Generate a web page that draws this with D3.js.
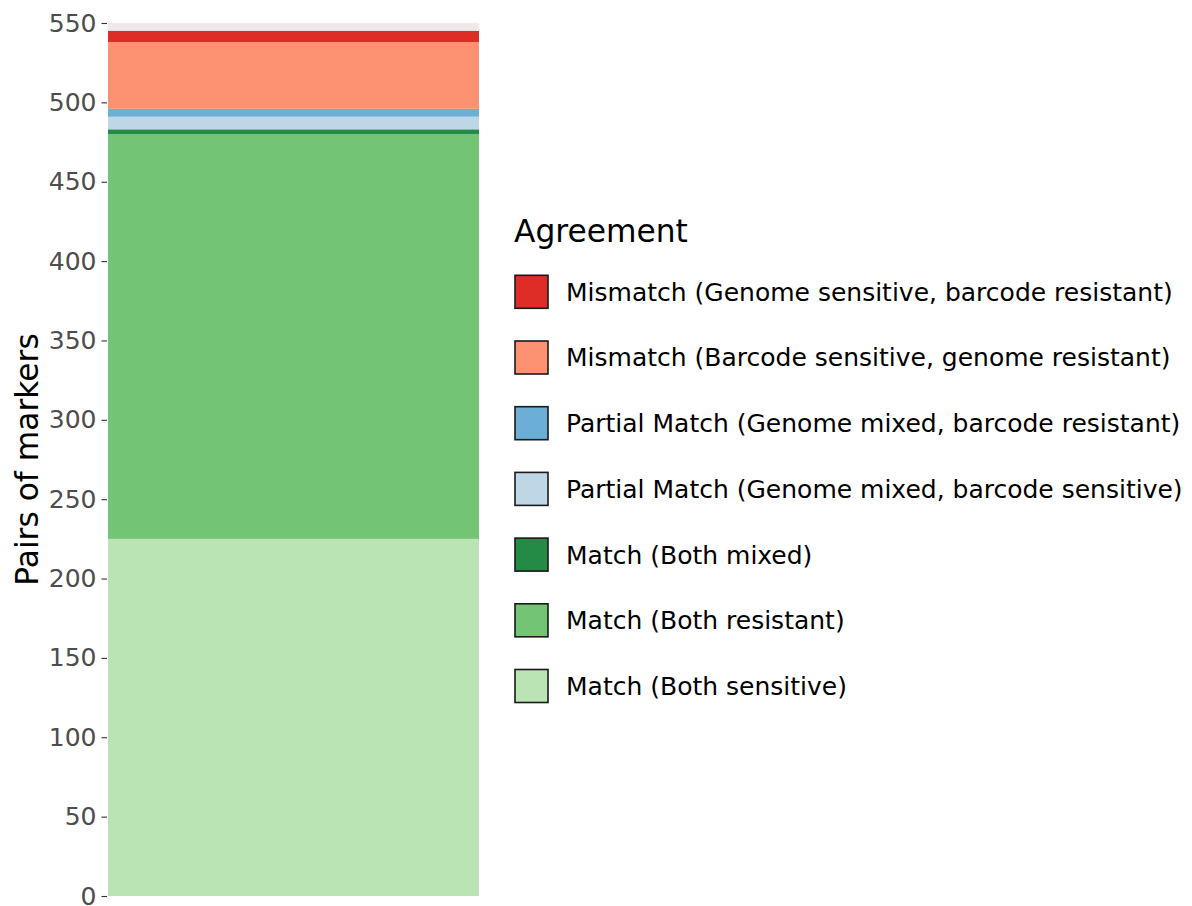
<!DOCTYPE html>
<html lang="en">
<head>
    <meta charset="UTF-8">
    <title>Pairs of markers by agreement</title>
    <style>
        body {
            margin: 0;
            padding: 0;
            background: #fff;
        }

        svg text {
            font-family: "DejaVu Sans", sans-serif;
        }
    </style>
</head>
<body>
    <svg id="chart" width="1192" height="906"></svg>

    <script src="https://d3js.org/d3.v7.min.js"></script>
    <script>
        // stacked from the bottom up
        const categories = [
            "Match (Both sensitive)",
            "Match (Both resistant)",
            "Match (Both mixed)",
            "Partial Match (Genome mixed, barcode sensitive)",
            "Partial Match (Genome mixed, barcode resistant)",
            "Mismatch (Barcode sensitive, genome resistant)",
            "Mismatch (Genome sensitive, barcode resistant)"
        ];
        const counts = [225, 255, 3, 8, 5, 42, 7];
        const colors = ["#bae4b3", "#74c476", "#238b45", "#bdd7e7", "#6baed6", "#fc9272", "#de2d26"];
        const yTicks = [0, 50, 100, 150, 200, 250, 300, 350, 400, 450, 500, 550];

        const svg = d3.select("#chart");

        const y = d3.scaleLinear().domain([0, 550]).range([896, 23]);
        const x = d3.scaleBand().domain(["all"]).range([108, 479]).padding(0);

        // panel background (only shows above the bar)
        svg.append("rect")
            .attr("x", 108)
            .attr("y", y(550))
            .attr("width", 371)
            .attr("height", y(0) - y(550))
            .attr("fill", "#ebebeb");

        // stack the segments
        const tops = d3.cumsum(counts);
        const segs = counts.map((c, i) => ({ name: categories[i], lo: tops[i] - c, hi: tops[i], color: colors[i] }));

        svg.selectAll("rect.seg")
            .data(segs)
            .enter()
            .append("rect")
            .attr("class", "seg")
            .attr("x", x("all"))
            .attr("width", x.bandwidth())
            .attr("y", d => y(d.hi))
            .attr("height", d => y(d.lo) - y(d.hi))
            .attr("fill", d => d.color);

        // y axis
        const yAxis = svg.append("g")
            .attr("transform", "translate(107,0)")
            .call(d3.axisLeft(y).tickValues(yTicks).tickSize(5.5).tickPadding(5));
        yAxis.select(".domain").remove();
        yAxis.selectAll(".tick line").attr("stroke", "#333").attr("stroke-width", 1.1);
        yAxis.selectAll(".tick text")
            .attr("fill", "#4d4d4d")
            .style("font-size", "25px")
            .style("font-family", "DejaVu Sans, sans-serif");

        svg.append("text")
            .attr("transform", "translate(37.5," + ((y(0) + y(550)) / 2) + ") rotate(-90)")
            .attr("text-anchor", "middle")
            .style("font-size", "31.3px")
            .attr("fill", "#000")
            .text("Pairs of markers");

        // legend
        const legend = svg.append("g");
        legend.append("text")
            .attr("x", 514)
            .attr("y", 241.5)
            .style("font-size", "31.3px")
            .attr("fill", "#000")
            .text("Agreement");

        const legendItems = segs.slice().reverse();
        const rowY = i => 291.8 + i * 65.7;

        const rows = legend.selectAll("g.row")
            .data(legendItems)
            .enter()
            .append("g")
            .attr("class", "row")
            .attr("transform", (d, i) => "translate(0," + rowY(i) + ")");

        rows.append("rect")
            .attr("x", 515)
            .attr("y", -16.5)
            .attr("width", 33)
            .attr("height", 33)
            .attr("fill", d => d.color)
            .attr("stroke", "#1a1a1a")
            .attr("stroke-width", 1.6);

        rows.append("text")
            .attr("x", 566)
            .attr("y", 8.9)
            .style("font-size", "25px")
            .attr("fill", "#000")
            .text(d => d.name);
    </script>
</body>
</html>
